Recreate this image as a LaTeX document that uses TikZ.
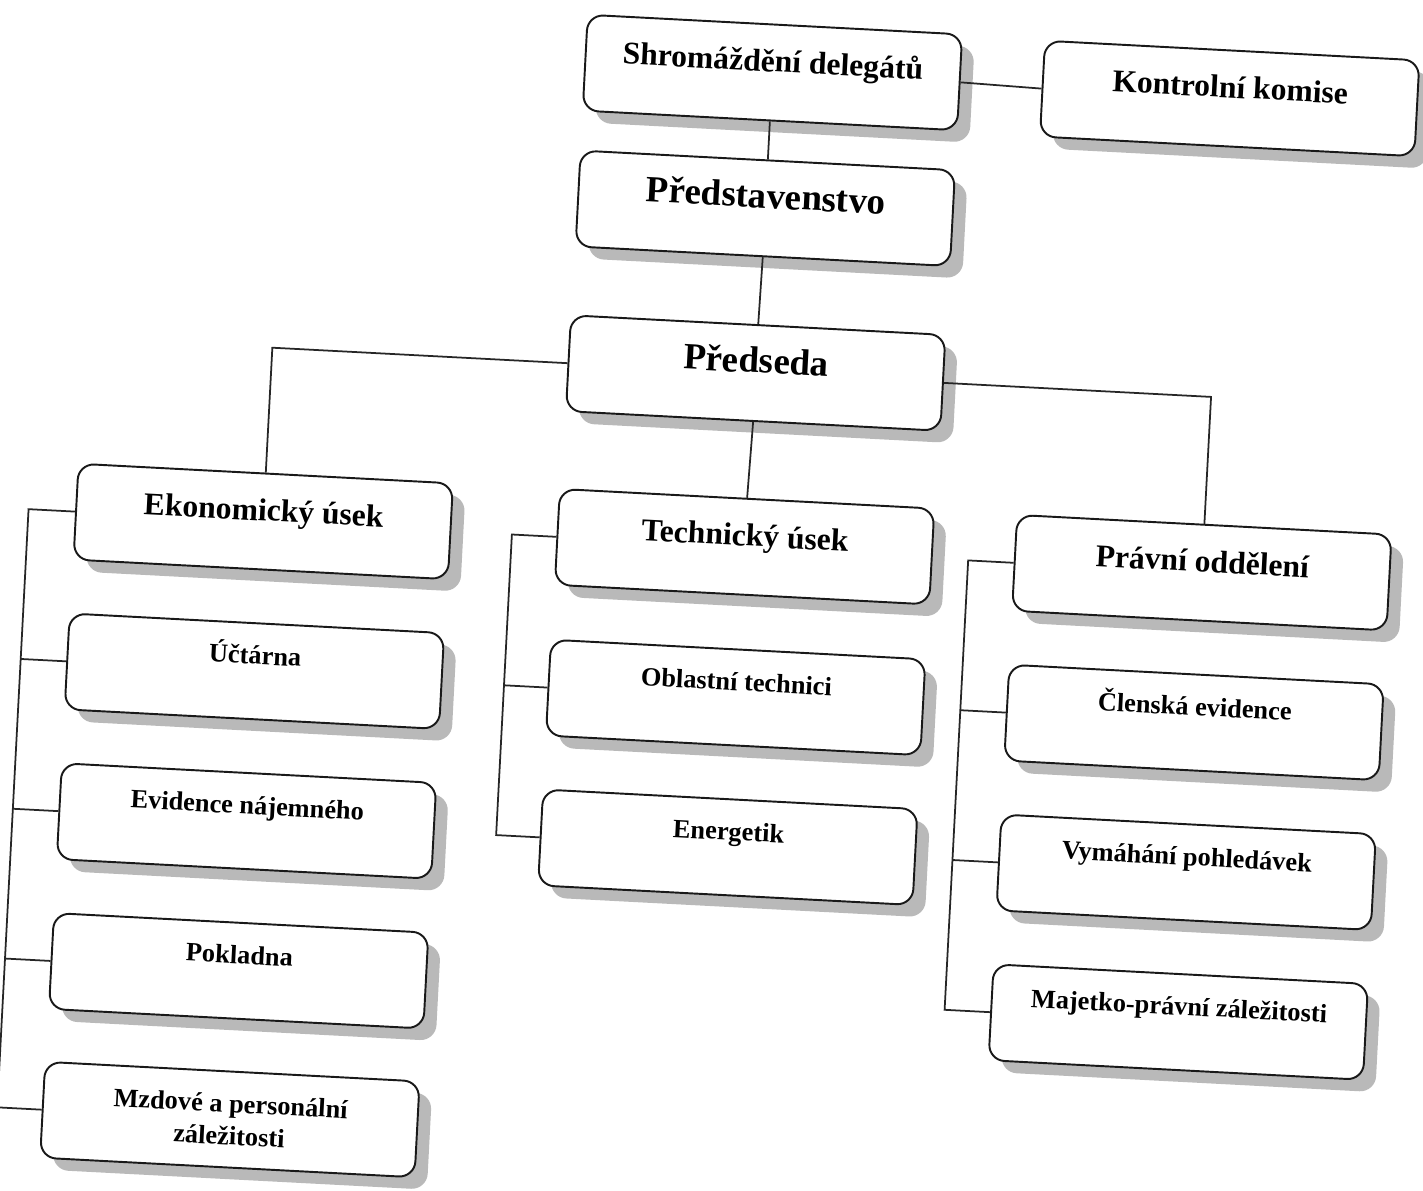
\documentclass[tikz,border=0pt]{standalone}
\usepackage{fontspec}
\setmainfont{Liberation Serif}
\usetikzlibrary{shadows}
\begin{document}
\begin{tikzpicture}[x=0.02cm,y=-0.02cm,
  box/.style={draw=black!90, line width=1.1pt, rounded corners=9pt, fill=white,
    minimum width=7.5cm, minimum height=1.92cm, align=center, inner sep=2pt,
    drop shadow={shadow xshift=7pt, shadow yshift=-7pt, fill=gray!55, opacity=1}},
  bigbox/.style={box, font=\fontsize{21}{25}\selectfont\bfseries, text height=14.7pt, text depth=15pt},
  midbox/.style={box, font=\fontsize{18}{21}\selectfont\bfseries, text height=12.6pt, text depth=13.5pt},
  leafbox/.style={box, font=\fontsize{15}{17}\selectfont\bfseries, text height=10.5pt, text depth=18.5pt},
  leaftwo/.style={box, font=\fontsize{15}{18.5}\selectfont\bfseries},
  conn/.style={draw=black!85, line width=1pt}]
\fill[white] (0,0) rectangle (1423,1190);
\useasboundingbox (0,0) rectangle (1423,1190);
\begin{scope}[rotate around={-3:(711,595)}, transform shape]
  % top levels
  \node[midbox] (shrom) at (745,70) {Shromáždění delegátů};
  \node[midbox] (kontr) at (1203,72) {Kontrolní komise};
  \node[bigbox] (pstav) at (745,206) {Představenstvo};
  \node[bigbox] (pred) at (744,371) {Předseda};
  % second level
  \node[midbox] (eko) at (260,545) {Ekonomický úsek};
  \node[midbox] (tech) at (742,545) {Technický úsek};
  \node[midbox] (prav) at (1200,547) {Právní oddělení};
  % leaves left
  \node[leafbox] (ucet) at (259,695) {Účtárna};
  \node[leafbox] (evid) at (259,845) {Evidence nájemného};
  \node[leafbox] (pokl) at (259,995) {Pokladna};
  \node[leaftwo] (mzd) at (258,1144) {Mzdové a personální\\záležitosti};
  % leaves middle
  \node[leafbox] (obl) at (741,696) {Oblastní technici};
  \node[leafbox] (ener) at (741,846) {Energetik};
  % leaves right
  \node[leafbox] (clen) at (1200,697) {Členská evidence};
  \node[leafbox] (vym) at (1200,847) {Vymáhání pohledávek};
  \node[leafbox] (maj) at (1200,997) {Majetko-právní záležitosti};
  % bus coordinates
  \coordinate (pl) at (260,371);
  \coordinate (pr) at (1200,371);
  \coordinate (lb0) at (25,545);
  \coordinate (lb1) at (25,695);
  \coordinate (lb2) at (25,845);
  \coordinate (lb3) at (25,995);
  \coordinate (lb4) at (25,1144);
  \coordinate (mb0) at (509,545);
  \coordinate (mb1) at (509,696);
  \coordinate (mb2) at (509,846);
  \coordinate (rb0) at (966,547);
  \coordinate (rb1) at (966,697);
  \coordinate (rb2) at (966,847);
  \coordinate (rb3) at (966,997);
  % connectors
  \draw[conn] (shrom.south) -- (pstav.north);
  \draw[conn] (shrom.east) -- (kontr.west);
  \draw[conn] (pstav.south) -- (pred.north);
  \draw[conn] (pred.west) -- (pl) -- (eko.north);
  \draw[conn] (pred.east) -- (pr) -- (prav.north);
  \draw[conn] (pred.south) -- (tech.north);
  \draw[conn] (eko.west) -- (lb0) -- (lb4) -- (mzd.west);
  \draw[conn] (ucet.west) -- (lb1);
  \draw[conn] (evid.west) -- (lb2);
  \draw[conn] (pokl.west) -- (lb3);
  \draw[conn] (tech.west) -- (mb0) -- (mb2) -- (ener.west);
  \draw[conn] (obl.west) -- (mb1);
  \draw[conn] (prav.west) -- (rb0) -- (rb3) -- (maj.west);
  \draw[conn] (clen.west) -- (rb1);
  \draw[conn] (vym.west) -- (rb2);
\end{scope}
\end{tikzpicture}
\end{document}
